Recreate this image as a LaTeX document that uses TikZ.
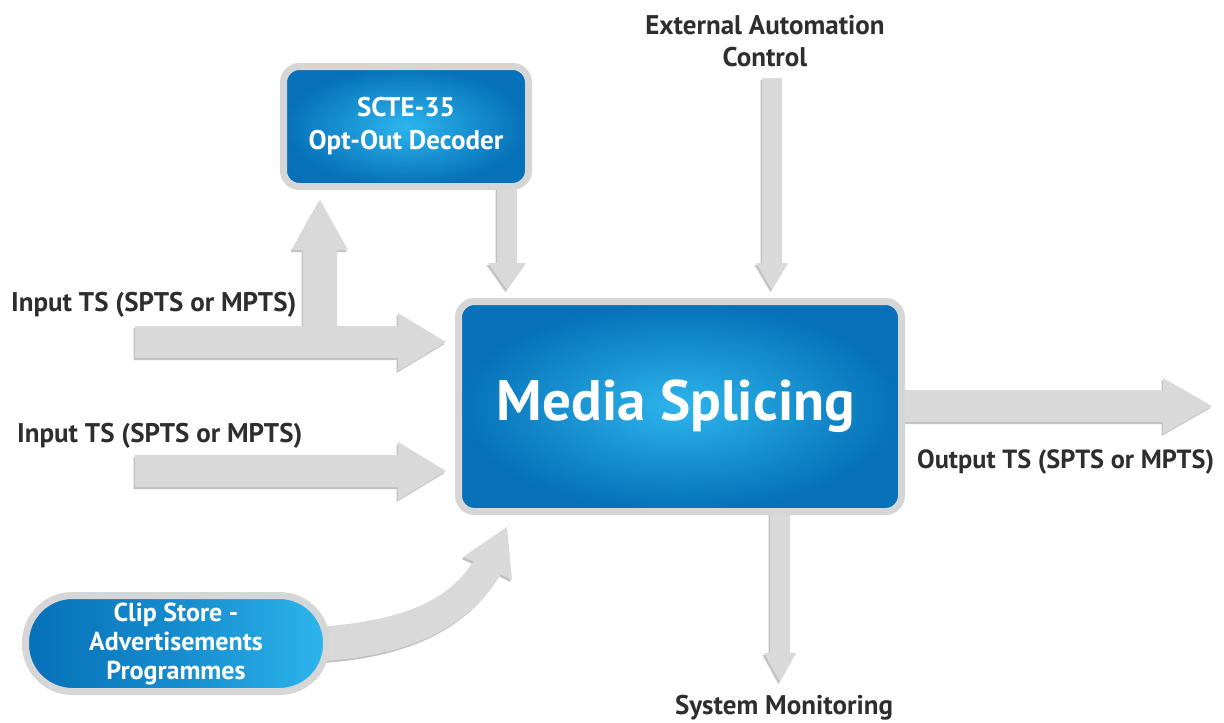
\documentclass[tikz,border=0pt]{standalone}
\usepackage{fontspec}
\setmainfont{PT Sans}
\usetikzlibrary{calc,shadows}
\definecolor{blueIn}{HTML}{2DB5EC}
\definecolor{blueOut}{HTML}{0670B8}
\definecolor{frameGray}{HTML}{D6D6D6}
\definecolor{arrowGray}{HTML}{D9D9D9}
\definecolor{labelGray}{HTML}{2E2E2E}
\tikzset{
  shad/.style={drop shadow={shadow xshift=-1.5pt, shadow yshift=-2pt, opacity=0.35, fill=black!70}},
  blockarrow/.style={fill=arrowGray, shad},
  bluebox/.style={draw=frameGray, line width=7pt, rounded corners=16pt, shade, inner color=blueIn, outer color=blueOut, shad, text=white, font=\bfseries, align=center, inner sep=0pt},
  lbl/.style={text=labelGray, font=\bfseries\fontsize{27}{32}\selectfont, inner sep=0pt, align=center}
}
\newcommand\myRight[5]{\fill[blockarrow] ($(#1)+(0,-#3)$) -- ($(#2)+(-#5,-#3)$) -- ($(#2)+(-#5,-#4)$) -- (#2) -- ($(#2)+(-#5,#4)$) -- ($(#2)+(-#5,#3)$) -- ($(#1)+(0,#3)$) -- cycle;}
\newcommand\myDown[5]{\fill[blockarrow] ($(#1)+(-#3,0)$) -- ($(#2)+(-#3,-#5)$) -- ($(#2)+(-#4,-#5)$) -- (#2) -- ($(#2)+(#4,-#5)$) -- ($(#2)+(#3,-#5)$) -- ($(#1)+(#3,0)$) -- cycle;}
\newcommand\myUp[5]{\fill[blockarrow] ($(#1)+(-#3,0)$) -- ($(#2)+(-#3,#5)$) -- ($(#2)+(-#4,#5)$) -- (#2) -- ($(#2)+(#4,#5)$) -- ($(#2)+(#3,#5)$) -- ($(#1)+(#3,0)$) -- cycle;}
\begin{document}
\begin{tikzpicture}[x=1pt,y=-1pt]
\useasboundingbox (0,0) rectangle (1224,723);
% coordinates of arrow ends
\coordinate (in1s) at (135,342);
\coordinate (in1t) at (446,342);
\coordinate (in2s) at (135,471);
\coordinate (in2t) at (446,471);
\coordinate (ups) at (320,342);
\coordinate (upt) at (320,200);
\coordinate (scs) at (507,180);
\coordinate (sct) at (507,290);
\coordinate (exs) at (772,78);
\coordinate (ext) at (772,290);
\coordinate (sys) at (780,505);
\coordinate (syt) at (780,682);
\coordinate (outs) at (895,406);
\coordinate (outt) at (1212,406);
% arrows
\myUp{ups}{upt}{17}{28}{50}
\myRight{in1s}{in1t}{16}{29}{48}
\myRight{in2s}{in2t}{16}{29}{48}
\myDown{scs}{sct}{10}{19}{27}
\myDown{exs}{ext}{10}{16}{27}
\myDown{sys}{syt}{10}{16}{29}
\myRight{outs}{outt}{16}{28}{49}
% curved arrow from clip store
\coordinate (cvt) at (507,527);
\fill[blockarrow] (300,628) .. controls (405,623) and (448,600) .. (473.5,561.7)
  -- (463,557) -- (cvt) -- (512,580) -- (500.5,574.3)
  .. controls (472,622) and (415,660) .. (300,662) -- cycle;
% boxes
\node[bluebox, minimum width=443pt, minimum height=210pt, font=\bfseries\fontsize{57}{60}\selectfont] (ms) at (680,406.5) {\hspace*{-8pt}Media Splicing};
\node[bluebox, minimum width=245pt, minimum height=120pt, font=\bfseries\fontsize{27}{33}\selectfont] (scte) at (406,126.5) {SCTE-35\\Opt-Out Decoder};
\node[bluebox, rounded corners=47pt, minimum width=301pt, minimum height=96pt, shade, left color=blueOut, right color=blueIn, middle color=blueOut!60!blueIn, font=\bfseries\fontsize{26}{29}\selectfont] (clip) at (176,643.5) {Clip Store -\\Advertisements\\Programmes};
% labels
\node[lbl] (extl) at (765,41) {External Automation\\Control};
\node[lbl, anchor=west] (in1l) at (11,305) {Input TS (SPTS or MPTS)};
\node[lbl, anchor=west] (in2l) at (17,436) {Input TS (SPTS or MPTS)};
\node[lbl, anchor=west, font=\bfseries\fontsize{26.3}{32}\selectfont] (outl) at (917,462) {Output TS (SPTS or MPTS)};
\node[lbl] (sysl) at (784,708) {System Monitoring};
\end{tikzpicture}
\end{document}
